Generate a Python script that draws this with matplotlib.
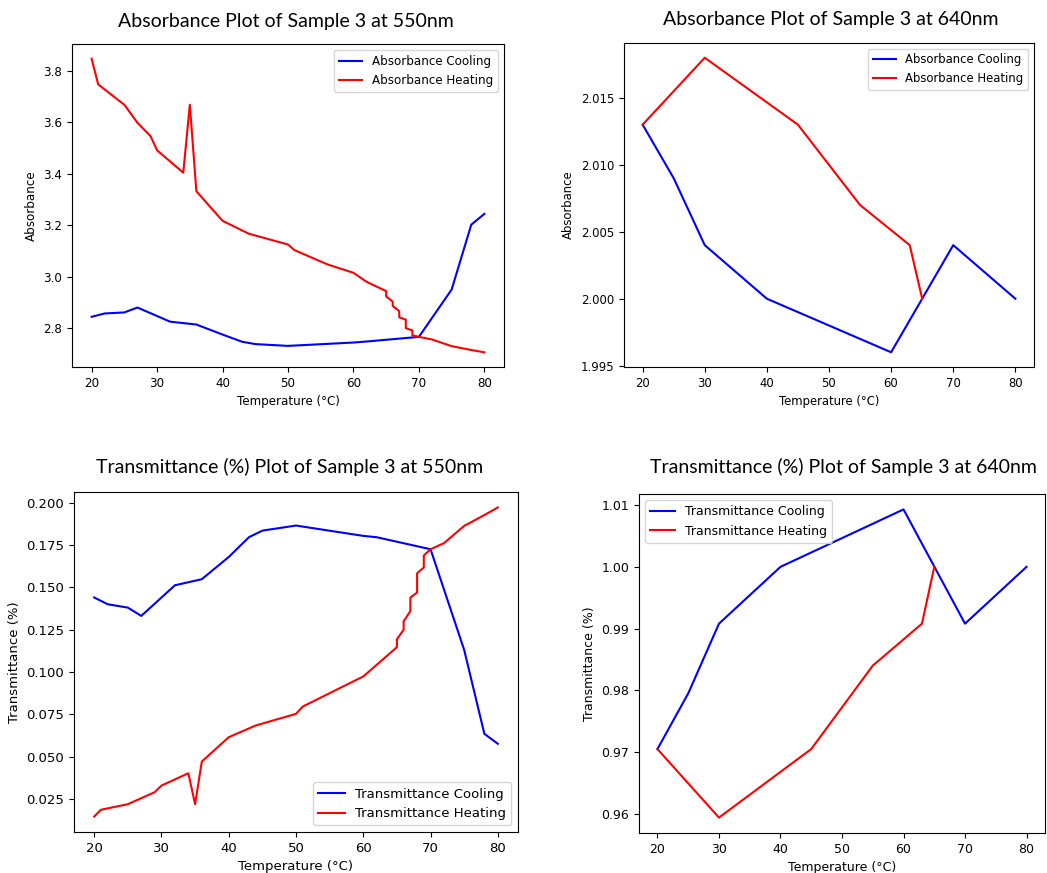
import matplotlib.pyplot as plt

# 550 nm absorbance
temp_a550_cool = [20, 22, 25, 27, 32, 36, 40, 43, 45, 50, 60, 62, 70, 75, 78, 80]
a550_cool = [2.844, 2.857, 2.861, 2.880, 2.825, 2.814, 2.775, 2.747, 2.738, 2.731,
             2.744, 2.748, 2.766, 2.950, 3.202, 3.244]
temp_a550_heat = [20, 21, 25, 27, 29, 30, 34, 35, 36, 40, 44, 50, 51, 56, 60, 62,
                  65, 65, 66, 66, 67, 67, 68, 68, 69, 69, 70, 72, 75, 78, 80]
a550_heat = [3.847, 3.747, 3.668, 3.598, 3.546, 3.491, 3.404, 3.668, 3.332, 3.217,
             3.167, 3.125, 3.103, 3.048, 3.015, 2.980, 2.944, 2.923, 2.903, 2.886,
             2.866, 2.842, 2.833, 2.800, 2.791, 2.772, 2.766, 2.756, 2.730, 2.715, 2.706]

# 640 nm absorbance
temp_a640_cool = [20, 25, 30, 40, 60, 70, 80]
a640_cool = [2.013, 2.009, 2.004, 2.000, 1.996, 2.004, 2.000]
temp_a640_heat = [20, 30, 45, 55, 63, 65]
a640_heat = [2.013, 2.018, 2.013, 2.007, 2.004, 2.000]

# 550 nm transmittance
temp_t550_cool = [20, 22, 25, 27, 32, 36, 40, 43, 45, 50, 60, 62, 70, 75, 78, 80]
t550_cool = [0.1441, 0.1401, 0.1381, 0.1332, 0.1513, 0.1549, 0.1680, 0.1797, 0.1836,
             0.1866, 0.1805, 0.1797, 0.1726, 0.1131, 0.0635, 0.0576]
temp_t550_heat = [20, 21, 25, 29, 30, 34, 35, 36, 40, 44, 50, 51, 56, 60, 62,
                  65, 65, 66, 66, 67, 67, 68, 68, 69, 69, 70, 72, 75, 78, 80]
t550_heat = [0.0146, 0.0186, 0.0219, 0.0290, 0.0329, 0.0402, 0.0219, 0.0471, 0.0615,
             0.0684, 0.0753, 0.0796, 0.0895, 0.0974, 0.1043, 0.1147, 0.1194, 0.1250,
             0.1300, 0.1360, 0.1440, 0.1470, 0.1584, 0.1618, 0.1689, 0.1726, 0.1762,
             0.1864, 0.1928, 0.1973]

# 640 nm transmittance
temp_t640_cool = [20, 25, 30, 40, 60, 70, 80]
t640_cool = [0.9705, 0.9795, 0.9908, 1.0000, 1.0093, 0.9908, 1.0000]
temp_t640_heat = [20, 30, 45, 55, 63, 65]
t640_heat = [0.9705, 0.9594, 0.9705, 0.9840, 0.9908, 1.0000]

W, H = 1047, 873
fig = plt.figure(figsize=(W / 100, H / 100), dpi=100)


def panel(box, fs):
    left, top, right, bottom = box
    ax = fig.add_axes([left / W, 1 - bottom / H, (right - left) / W, (bottom - top) / H])
    ax.tick_params(labelsize=fs)
    for s in ax.spines.values():
        s.set_linewidth(0.8)
    return ax


def title(x, y, text):
    fig.text(x / W, 1 - y / H, text, ha='center', va='center',
             fontsize=14, family=['Lato', 'DejaVu Sans'])


plots = [
    ((72, 44, 504, 367), 8.6, temp_a550_cool, a550_cool, temp_a550_heat, a550_heat,
     'Absorbance', 'upper right', (286, 22), 'Absorbance Plot of Sample 3 at 550nm'),
    ((624, 43, 1034, 367), 8.4, temp_a640_cool, a640_cool, temp_a640_heat, a640_heat,
     'Absorbance', 'upper right', (831, 20), 'Absorbance Plot of Sample 3 at 640nm'),
    ((74, 492, 518, 832), 9.5, temp_t550_cool, t550_cool, temp_t550_heat, t550_heat,
     'Transmittance', 'lower right', (290, 467), 'Transmittance (%) Plot of Sample 3 at 550nm'),
    ((639, 494, 1045, 833), 9.0, temp_t640_cool, t640_cool, temp_t640_heat, t640_heat,
     'Transmittance', 'upper left', (843, 467), 'Transmittance (%) Plot of Sample 3 at 640nm'),
]

for box, fs, xc, yc, xh, yh, kind, loc, tpos, ttl in plots:
    ax = panel(box, fs)
    ax.plot(xc, yc, color='blue', lw=1.5, label=kind + ' Cooling')
    ax.plot(xh, yh, color='red', lw=1.5, label=kind + ' Heating')
    ax.set_xlabel('Temperature (°C)', fontsize=fs)
    ax.set_ylabel('Absorbance' if kind == 'Absorbance' else 'Transmittance (%)', fontsize=fs)
    ax.legend(loc=loc, fontsize=fs)
    title(tpos[0], tpos[1], ttl)

fig.savefig('out.png', dpi=100)
